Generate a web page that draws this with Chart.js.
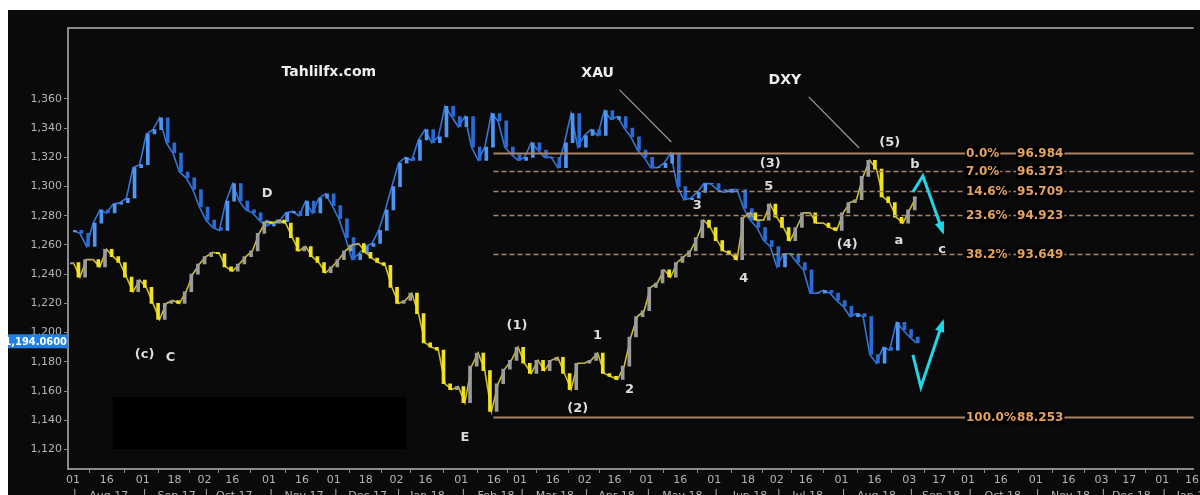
<!DOCTYPE html>
<html>
<head>
<meta charset="utf-8">
<script src="https://cdn.jsdelivr.net/npm/chart.js@4.4.0/dist/chart.umd.min.js"></script>
<style>
  html, body { margin: 0; padding: 0; background: #fff; }
  #wrap { position: absolute; left: 8px; top: 10px; width: 1192px; height: 485px; background: #0a0a0a; }
</style>
</head>
<body>
<div id="wrap"><canvas id="chart"></canvas></div>
<script>
// sample slots (one slot ~ 2 trading days), first sample sits in slot 2
const firstSlot = 2;

// XAU closes, sampled per slot
const xauValues = [1270,1268,1259,1275,1284,1282,1288,1289,1292,1313,
  1315,1336,1339,1347,1330,1323,1310,1306,1298,1286,
  1277,1272,1270,1290,1302,1290,1284,1282,1277,1273,
  1275,1276,1282,1283,1280,1290,1282,1292,1295,1287,
  1278,1265,1250,1254,1259,1261,1270,1284,1300,1316,
  1320,1318,1332,1339,1330,1334,1355,1348,1341,1348,
  1327,1318,1327,1350,1345,1327,1322,1318,1320,1330,
  1325,1320,1320,1313,1330,1350,1327,1335,1339,1335,
  1352,1346,1348,1340,1334,1325,1320,1313,1313,1316,
  1323,1300,1291,1292,1296,1302,1302,1298,1296,1298,
  1298,1285,1277,1272,1263,1259,1245,1254,1254,1248,
  1243,1227,1227,1229,1227,1222,1218,1211,1213,1211,
  1185,1179,1190,1188,1207,1202,1197,1193];

// DXY overlaid on the XAU price scale
const dxyValues = [1248,1238,1250,1250,1245,1257,1252,1248,1238,1228,
  1236,1231,1220,1209,1220,1222,1220,1228,1240,1247,
  1252,1255,1254,1245,1242,1247,1252,1256,1268,1276,
  1275,1277,1275,1265,1256,1259,1252,1248,1241,1245,
  1250,1256,1260,1261,1255,1251,1248,1246,1231,1220,
  1222,1227,1213,1193,1190,1188,1165,1161,1163,1152,
  1177,1186,1174,1146,1165,1175,1181,1190,1179,1172,
  1181,1174,1181,1183,1172,1161,1179,1179,1181,1186,
  1172,1170,1168,1177,1197,1211,1215,1231,1234,1243,
  1238,1248,1252,1256,1265,1277,1272,1263,1256,1254,
  1250,1279,1282,1277,1277,1288,1279,1272,1263,1272,
  1282,1282,1275,1275,1272,1270,1282,1289,1291,1307,
  1318,1312,1293,1289,1279,1275,1284,1293];

const yTicks = [1120,1140,1160,1180,1200,1220,1240,1260,1280,1300,1320,1340,1360];

const tickSlots = [1.95,7.05,12.45,17.25,21.75,25.95,31.5,36.45,41.25,46.05,50.7,55.05,
  60.45,65.4,69.3,74.25,79.05,83.55,88.35,93.45,98.55,103.65,108,112.35,
  117.75,122.7,127.95,132.45,136.8,141.75,147,151.95,156.9,161.1,166.05,170.55];
const tickLabels = ['01','16','01','18','02','16','01','16','01','18','02','16',
  '01','16','01','16','02','16','01','16','01','18','02','16',
  '01','16','03','17','01','16','01','16','03','17','01','16'];
const monthLabels = ['Aug 17','Sep 17','Oct 17','Nov 17','Dec 17','Jan 18','Feb 18','Mar 18','Apr 18',
  'May 18','Jun 18','Jul 18','Aug 18','Sep 18','Oct 18','Nov 18','Dec 18','Jan 19'];

// Fibonacci retracement of DXY, drawn on the XAU scale
const fibPrices = [1323, 1310.5, 1297, 1280.5, 1254, 1142.3];
const fibPct = ['0.0%','7.0%','14.6%','23.6%','38.2%','100.0%'];
const fibDxy = ['96.984','96.373','95.709','94.923','93.649','88.253'];
const fibStart = 65.3;

const waveLabels = [
  { t: '(5)', k: 125, p: 1330 }, { t: 'b', k: 128.8, p: 1315 },
  { t: '(3)', k: 107, p: 1316 }, { t: '5', k: 106.8, p: 1300 },
  { t: '3', k: 96, p: 1286.7 }, { t: '4', k: 103, p: 1236.7 },
  { t: '(4)', k: 118.6, p: 1260 }, { t: 'a', k: 126.4, p: 1262.7 },
  { t: 'c', k: 132.9, p: 1257 }, { t: 'D', k: 31.2, p: 1295 },
  { t: '(c)', k: 12.75, p: 1185 }, { t: 'C', k: 16.65, p: 1182.6 },
  { t: 'E', k: 61, p: 1127.8 }, { t: '(1)', k: 68.85, p: 1205 },
  { t: '1', k: 81, p: 1197.7 }, { t: '(2)', k: 78, p: 1147.7 },
  { t: '2', k: 85.8, p: 1160.7 }
];
const titleLabels = [
  { t: 'Tahlilfx.com', k: 40.5, p: 1378.5 },
  { t: 'XAU', k: 81, p: 1377.8 },
  { t: 'DXY', k: 109.2, p: 1373 }
];
const pointers = [[[84.3, 1366.2], [92.1, 1330.5]], [[112.8, 1361.4], [120.4, 1326.4]]];
const arrows = [[[128.5, 1296.3], [130, 1307.3], [133, 1269]], [[128.5, 1184.7], [129.7, 1162.7], [133, 1207.3]]];
const lastPrice = 1194.06;

function stepBars(values, upColor, downColor) {
  const data = [], colors = [];
  values.forEach((v, i) => {
    const prev = i > 0 ? values[i - 1] : v - 1;
    data.push({ x: firstSlot + i, y: [prev, v] });
    colors.push(v >= prev ? upColor : downColor);
  });
  return { data, colors };
}
const xauBars = stepBars(xauValues, '#4f95f2', '#2b6cd4');
const dxyBars = stepBars(dxyValues, '#9c9c9c', '#f2e21e');

const overlay = {
  id: 'overlay',
  beforeDatasetsDraw(chart) {
    const { ctx, scales: { x, y } } = chart;
    ctx.save();
    ctx.fillStyle = '#000';
    ctx.fillRect(x.getPixelForValue(7.95), y.getPixelForValue(1155.9),
      x.getPixelForValue(52.2) - x.getPixelForValue(7.95), y.getPixelForValue(1120.3) - y.getPixelForValue(1155.9));
    ctx.restore();
  },
  afterDatasetsDraw(chart) {
    const { ctx, chartArea: ca, scales: { x, y } } = chart;
    ctx.save();
    // fib lines
    fibPrices.forEach((p, i) => {
      const py = Math.round(y.getPixelForValue(p)) + 0.5;
      const solid = i === 0 || i === fibPrices.length - 1;
      ctx.strokeStyle = '#a88468';
      ctx.lineWidth = solid ? 2 : 1.5;
      ctx.setLineDash(solid ? [] : [5, 3]);
      ctx.beginPath();
      ctx.moveTo(x.getPixelForValue(fibStart), py);
      ctx.lineTo(ca.right, py);
      ctx.stroke();
      ctx.setLineDash([]);
      ctx.font = 'bold 12px "DejaVu Sans"';
      ctx.textBaseline = 'middle';
      const x1 = x.getPixelForValue(136.5), x2 = x.getPixelForValue(144.2);
      const w1 = ctx.measureText(fibPct[i]).width, w2 = ctx.measureText(fibDxy[i]).width;
      ctx.fillStyle = '#000';
      ctx.fillRect(x1 - 1, py - 7, w1 + 2, 14);
      ctx.fillRect(x2 - 1, py - 7, w2 + 2, 14);
      ctx.fillStyle = '#e7a35c';
      ctx.fillText(fibPct[i], x1, py);
      ctx.fillText(fibDxy[i], x2, py);
    });
    // pointer lines
    ctx.strokeStyle = '#9a9a9a';
    ctx.lineWidth = 1.2;
    pointers.forEach(seg => {
      ctx.beginPath();
      ctx.moveTo(x.getPixelForValue(seg[0][0]), y.getPixelForValue(seg[0][1]));
      ctx.lineTo(x.getPixelForValue(seg[1][0]), y.getPixelForValue(seg[1][1]));
      ctx.stroke();
    });
    // cyan arrows
    ctx.strokeStyle = '#22d6e8';
    ctx.fillStyle = '#22d6e8';
    ctx.lineWidth = 3;
    arrows.forEach(pts => {
      const px = pts.map(p => [x.getPixelForValue(p[0]), y.getPixelForValue(p[1])]);
      ctx.beginPath();
      px.forEach((p, i) => i ? ctx.lineTo(p[0], p[1]) : ctx.moveTo(p[0], p[1]));
      ctx.stroke();
      const a = px[px.length - 2], b = px[px.length - 1];
      const ang = Math.atan2(b[1] - a[1], b[0] - a[0]);
      ctx.beginPath();
      ctx.moveTo(b[0] + 3 * Math.cos(ang), b[1] + 3 * Math.sin(ang));
      ctx.lineTo(b[0] - 11 * Math.cos(ang - 0.45), b[1] - 11 * Math.sin(ang - 0.45));
      ctx.lineTo(b[0] - 11 * Math.cos(ang + 0.45), b[1] - 11 * Math.sin(ang + 0.45));
      ctx.closePath();
      ctx.fill();
    });
    // labels
    ctx.textAlign = 'center';
    ctx.textBaseline = 'middle';
    ctx.fillStyle = '#dcdcdc';
    ctx.font = 'bold 13px "DejaVu Sans"';
    waveLabels.forEach(l => ctx.fillText(l.t, x.getPixelForValue(l.k), y.getPixelForValue(l.p)));
    ctx.fillStyle = '#eeeeee';
    ctx.font = 'bold 14px "DejaVu Sans"';
    titleLabels.forEach(l => ctx.fillText(l.t, x.getPixelForValue(l.k), y.getPixelForValue(l.p)));
    ctx.restore();
  },
  afterDraw(chart) {
    const { ctx, chartArea: ca, scales: { x, y } } = chart;
    ctx.save();
    // top frame line
    ctx.strokeStyle = '#8a8a8a';
    ctx.lineWidth = 2;
    ctx.beginPath();
    ctx.moveTo(ca.left, ca.top);
    ctx.lineTo(ca.right, ca.top);
    ctx.stroke();
    // month row
    ctx.font = '11px "DejaVu Sans"';
    ctx.fillStyle = '#b4b4b4';
    ctx.textBaseline = 'top';
    ctx.textAlign = 'center';
    monthLabels.forEach((m, i) => {
      const xs = x.getPixelForValue(tickSlots[2 * i]);
      ctx.fillText('|', xs + 2, 479);
      if (tickSlots[2 * i + 1] !== undefined) {
        ctx.fillText(m, x.getPixelForValue(tickSlots[2 * i + 1]) + 2, 481);
      }
    });
    // last price tag
    const py = y.getPixelForValue(lastPrice);
    ctx.fillStyle = '#1f7fe6';
    ctx.fillRect(0, py - 7, ca.left, 14);
    ctx.fillStyle = '#ffffff';
    ctx.font = 'bold 11px "DejaVu Sans Condensed", "DejaVu Sans"';
    ctx.textAlign = 'right';
    ctx.textBaseline = 'middle';
    ctx.fillText('1,194.0600', ca.left - 1, py + 1);
    ctx.restore();
  }
};

new Chart(document.getElementById('chart'), {
  type: 'bar',
  data: {
    datasets: [
      { type: 'line', data: xauValues.map((v, i) => ({ x: firstSlot + i, y: v })), borderColor: '#3576dc',
        borderWidth: 1.6, pointRadius: 0, tension: 0, order: 4 },
      { data: xauBars.data, backgroundColor: xauBars.colors, barThickness: 3, order: 3 },
      { type: 'line', data: dxyValues.map((v, i) => ({ x: firstSlot + i, y: v })), borderColor: '#c9bb2c',
        borderWidth: 1.6, pointRadius: 0, tension: 0, order: 2 },
      { data: dxyBars.data, backgroundColor: dxyBars.colors, barThickness: 3, order: 1 }
    ]
  },
  options: {
    responsive: true,
    maintainAspectRatio: false,
    animation: false,
    layout: { padding: { top: 18, right: 0, left: 0, bottom: 0 } },
    plugins: { legend: { display: false }, tooltip: { enabled: false } },
    scales: {
      x: {
        type: 'linear', min: 1.2, max: 170.8, offset: false,
        afterBuildTicks: s => { s.ticks = tickSlots.map(v => ({ value: v })); },
        afterFit: s => { s.height = 26; },
        ticks: {
          autoSkip: false, maxRotation: 0, padding: 1, color: '#b4b4b4',
          font: { family: 'DejaVu Sans', size: 11 },
          callback: (v, i) => tickLabels[i]
        },
        grid: { drawOnChartArea: false, drawTicks: true, tickLength: 4, color: '#8a8a8a' },
        border: { color: '#8a8a8a', width: 2 }
      },
      y: {
        type: 'linear', min: 1106.6, max: 1408.6,
        afterBuildTicks: s => { s.ticks = yTicks.map(v => ({ value: v })); },
        afterFit: s => { s.width = 60; },
        ticks: {
          padding: 2, color: '#b4b4b4', font: { family: 'DejaVu Sans', size: 11 },
          callback: v => v.toLocaleString('en-US')
        },
        grid: { drawOnChartArea: false, drawTicks: true, tickLength: 4, color: '#8a8a8a' },
        border: { color: '#8a8a8a', width: 2 }
      }
    }
  },
  plugins: [overlay]
});
</script>
</body>
</html>
